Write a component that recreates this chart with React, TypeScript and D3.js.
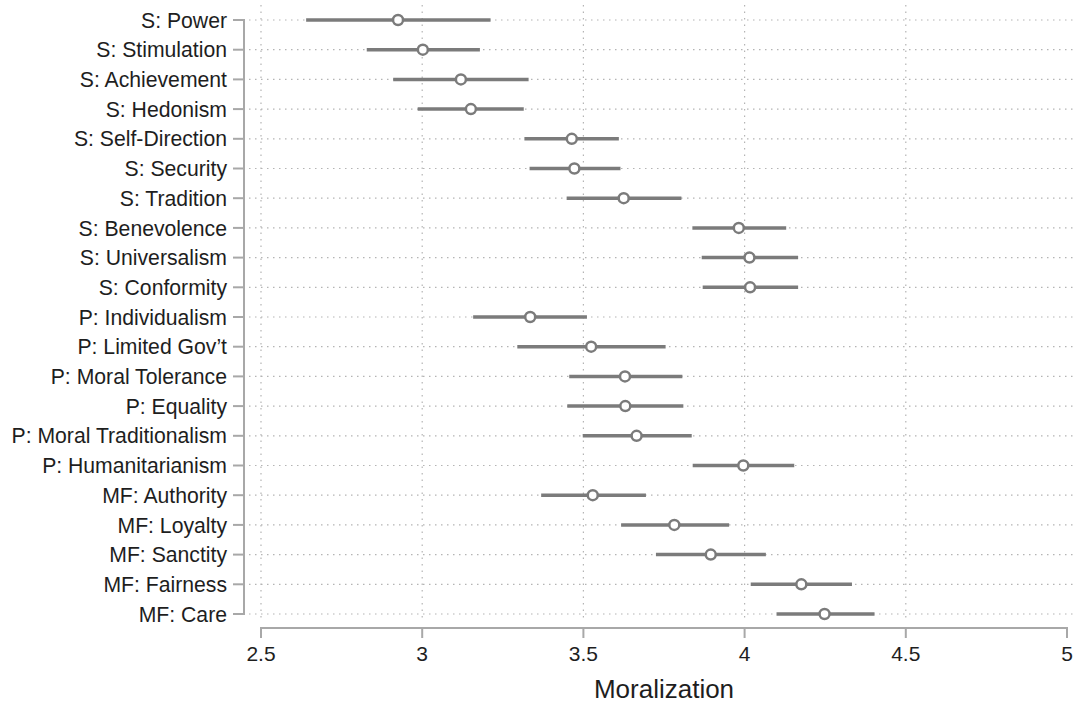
import React from "react";
import * as d3 from "d3";

const categories = [
  "S: Power", "S: Stimulation", "S: Achievement", "S: Hedonism", "S: Self-Direction",
  "S: Security", "S: Tradition", "S: Benevolence", "S: Universalism", "S: Conformity",
  "P: Individualism", "P: Limited Gov\u2019t", "P: Moral Tolerance", "P: Equality",
  "P: Moral Traditionalism", "P: Humanitarianism", "MF: Authority", "MF: Loyalty",
  "MF: Sanctity", "MF: Fairness", "MF: Care",
];
const estimates = [2.925, 3.002, 3.12, 3.151, 3.464, 3.472, 3.625, 3.982, 4.015, 4.017,
  3.335, 3.524, 3.629, 3.63, 3.665, 3.996, 3.529, 3.782, 3.895, 4.176, 4.248];
const lowers = [2.64, 2.828, 2.91, 2.986, 3.317, 3.333, 3.448, 3.838, 3.867, 3.87,
  3.158, 3.295, 3.456, 3.45, 3.498, 3.839, 3.369, 3.617, 3.725, 4.019, 4.099];
const uppers = [3.212, 3.179, 3.33, 3.315, 3.61, 3.615, 3.804, 4.129, 4.166, 4.166,
  3.511, 3.755, 3.807, 3.81, 3.836, 4.154, 3.694, 3.952, 4.066, 4.333, 4.403];
const xTicks = [2.5, 3, 3.5, 4, 4.5, 5];
const xTickLabels = ["2.5", "3", "3.5", "4", "4.5", "5"];
const xGrid = [2.5, 3, 3.5, 4, 4.5];
const xTitle = "Moralization";

const W = 1075, H = 703;
const FONT = "'Liberation Sans', Arial, Helvetica, sans-serif";
const TEXT = "#1e1e1e";
const MARK = "#7b7b7b";
const AXIS = "#a8a8a8";
const GRID = "#b4b4b4";

export default function App() {
  const x = d3.scaleLinear().domain([2.5, 5]).range([261, 1067]);
  const y = d3.scalePoint<string>().domain(categories).range([20, 614]);
  const axisY = 628;
  const yAxisX = 244;

  return (
    <svg width={W} height={H} style={{ position: "absolute", left: 0, top: 0, background: "#fff" }}
      fontFamily={FONT}>
      <rect x={0} y={0} width={W} height={H} fill="#fff" />
      {xGrid.map((t) => (
        <line key={"vg" + t} x1={x(t)} x2={x(t)} y1={5} y2={622}
          stroke={GRID} strokeWidth={1.2} strokeDasharray="1.5 5" />
      ))}
      {categories.map((c) => (
        <line key={"hg" + c} x1={249} x2={1075} y1={y(c)} y2={y(c)}
          stroke={GRID} strokeWidth={1.2} strokeDasharray="1.5 4.5" />
      ))}
      <line x1={yAxisX} x2={yAxisX} y1={y(categories[0])! - 1} y2={y(categories[categories.length - 1])! + 1}
        stroke={AXIS} strokeWidth={2} />
      {categories.map((c) => (
        <g key={"yt" + c}>
          <line x1={233} x2={yAxisX} y1={y(c)} y2={y(c)} stroke={AXIS} strokeWidth={2} />
          <text x={227} y={y(c)} dy="0.36em" textAnchor="end" fontSize={21.2} fill={TEXT}>{c}</text>
        </g>
      ))}
      <line x1={x(2.5) - 1} x2={x(5) + 1} y1={axisY} y2={axisY} stroke={AXIS} strokeWidth={2} />
      {xTicks.map((t, i) => (
        <g key={"xt" + t}>
          <line x1={x(t)} x2={x(t)} y1={axisY} y2={axisY + 10} stroke={AXIS} strokeWidth={2} />
          <text x={x(t)} y={661} textAnchor="middle" fontSize={21} fill={TEXT}>{xTickLabels[i]}</text>
        </g>
      ))}
      <text x={(x(2.5) + x(5)) / 2} y={698} textAnchor="middle" fontSize={26} fill={TEXT}>{xTitle}</text>
      {categories.map((c, i) => (
        <g key={"m" + c}>
          <line x1={x(lowers[i])} x2={x(uppers[i])} y1={y(c)} y2={y(c)} stroke={MARK} strokeWidth={3.5} />
          <circle cx={x(estimates[i])} cy={y(c)} r={5} fill="#fff" stroke={MARK} strokeWidth={2.5} />
        </g>
      ))}
    </svg>
  );
}
